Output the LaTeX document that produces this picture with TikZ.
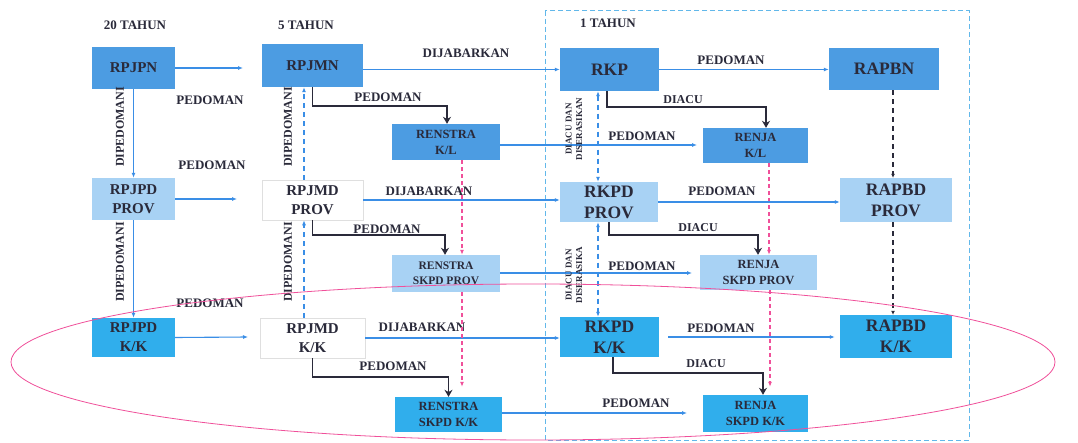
\documentclass[tikz,border=0pt]{standalone}
\usepackage{fontspec}
\setmainfont{Liberation Serif}
\usetikzlibrary{arrows.meta,calc}
\definecolor{dkb}{HTML}{4C9CE2}
\definecolor{ltb}{HTML}{A8D2F4}
\definecolor{brb}{HTML}{30AEEC}
\definecolor{txt}{HTML}{2A2A3A}
\definecolor{lnb}{HTML}{3A8EE6}
\definecolor{pnk}{HTML}{F0509A}
\definecolor{frm}{HTML}{62B8EA}
\begin{document}
\begin{tikzpicture}[x=1pt,y=-1pt,
  box/.style={rectangle, inner sep=0pt, align=center, text=txt},
  dk/.style={box, fill=dkb},
  lt/.style={box, fill=ltb},
  br/.style={box, fill=brb},
  wh/.style={box, fill=white, draw=gray!25, line width=0.6pt},
  fA/.style={font=\bfseries\fontsize{15}{19}\selectfont},
  fB/.style={font=\bfseries\fontsize{17.5}{21}\selectfont},
  fC/.style={font=\bfseries\fontsize{12.5}{16}\selectfont},
  fD/.style={font=\bfseries\fontsize{11.5}{15}\selectfont},
  lab/.style={text=txt, inner sep=0pt, font=\bfseries\fontsize{13}{13}\selectfont},
  labs/.style={text=txt, inner sep=0pt, font=\bfseries\fontsize{12}{12}\selectfont},
  rot/.style={text=txt, inner sep=0pt, rotate=90, align=center, font=\bfseries\fontsize{9}{10.5}\selectfont},
  bl/.style={draw=lnb, line width=1.1pt, -{Latex[length=5pt,width=4pt]}},
  bld/.style={draw=lnb, line width=1.1pt, dash pattern=on 5pt off 4pt},
  blk/.style={draw=txt, line width=1.7pt, -{Stealth[length=7pt,width=8pt]}},
  pk/.style={draw=pnk, line width=1.2pt, dash pattern=on 4pt off 3pt, -{Latex[length=5pt,width=4pt]}},
  bkd/.style={draw=txt, line width=1.4pt, dash pattern=on 5pt off 4pt, -{Latex[length=4pt,width=4pt]}}
]
\useasboundingbox (0,0) rectangle (1078,443);
\fill[white] (0,0) rectangle (1078,443);

% frame of 1 TAHUN
\draw[frm, line width=1pt, dash pattern=on 5pt off 3pt] (545,11) rectangle (969,440);

% column titles
\node[lab] (t20) at (135,25) {20 TAHUN};
\node[lab] (t5) at (306,25) {5 TAHUN};
\node[lab] (t1) at (608,23) {1 TAHUN};

% boxes
\node[dk, fA, minimum width=83pt, minimum height=42pt] (rpjpn) at (133.5,68) {RPJPN};
\node[dk, fA, minimum width=101pt, minimum height=43pt] (rpjmn) at (312.5,65.5) {RPJMN};
\node[dk, fC, minimum width=108pt, minimum height=36pt] (renkl) at (446,142) {RENSTRA\\K/L};
\node[dk, fB, minimum width=99pt, minimum height=43pt] (rkp) at (609.5,69.5) {RKP};
\node[dk, fB, minimum width=110pt, minimum height=42pt] (rapbn) at (884,69) {RAPBN};
\node[dk, fC, minimum width=105pt, minimum height=35pt] (renjakl) at (755.5,145.5) {RENJA\\K/L};

\node[lt, fA, minimum width=83pt, minimum height=42pt] (rpjpdp) at (133.5,199) {RPJPD\\PROV};
\node[wh, fA, minimum width=101pt, minimum height=40pt] (rpjmdp) at (312.5,200) {RPJMD\\PROV};
\node[lt, fB, minimum width=98pt, minimum height=40pt] (rkpdp) at (609,202) {RKPD\\PROV};
\node[lt, fB, minimum width=112pt, minimum height=44pt] (rapbdp) at (896,200) {RAPBD\\PROV};
\node[lt, fD, minimum width=108pt, minimum height=37pt] (rensp) at (446,273.5) {RENSTRA\\SKPD PROV};
\node[lt, fC, minimum width=117pt, minimum height=35pt] (renjap) at (758.5,272.5) {RENJA\\SKPD PROV};

\node[br, fA, minimum width=83pt, minimum height=39pt] (rpjpdk) at (133.5,337.5) {RPJPD\\K/K};
\node[wh, fA, minimum width=105pt, minimum height=40pt] (rpjmdk) at (312.5,338) {RPJMD\\K/K};
\node[br, fB, minimum width=99pt, minimum height=40pt] (rkpdk) at (609.5,337) {RKPD\\K/K};
\node[br, fB, minimum width=112pt, minimum height=43pt] (rapbdk) at (896,336.5) {RAPBD\\K/K};
\node[br, fC, minimum width=107pt, minimum height=35pt] (rensk) at (448.5,414.5) {RENSTRA\\SKPD K/K};
\node[br, fC, minimum width=105pt, minimum height=37pt] (renjak) at (755.5,413.5) {RENJA\\SKPD K/K};

% free ends
\coordinate (e1) at (243,68);
\coordinate (e2) at (237,199);
\coordinate (e3) at (248,337);

% left column arrows
\draw[bl] (rpjpn.east) -- (e1);
\draw[bl] (rpjpdp.east) -- (e2);
\draw[bl] (rpjpdk.east) -- (e3);
\draw[bl] (rpjpn.south) -- (rpjpdp.north);
\draw[bl] (rpjpdp.south) -- (rpjpdk.north);
\node[lab] (lp1) at (210,100) {PEDOMAN};
\node[lab] (lp2) at (212,165) {PEDOMAN};
\node[lab] (lp3) at (210,303) {PEDOMAN};
\node[rot, font=\bfseries\fontsize{12}{12}\selectfont] (ld1) at (120,127) {DIPEDOMANI};
\node[rot, font=\bfseries\fontsize{12}{12}\selectfont] (ld2) at (120,262) {DIPEDOMANI};

% middle column
\draw[bl, bld] ([xshift=-8.5pt]rpjmdp.north) -- ([xshift=-8.5pt]rpjmn.south);
\draw[bl, bld] ([xshift=-8.5pt]rpjmdk.north) -- ([xshift=-8.5pt]rpjmdp.south);
\node[rot, font=\bfseries\fontsize{12}{12}\selectfont] (md1) at (288,127) {DIPEDOMANI};
\node[rot, font=\bfseries\fontsize{12}{12}\selectfont] (md2) at (288,262) {DIPEDOMANI};

\draw[bl] (rpjmn.east |- rkp.west) -- (rkp.west);
\draw[bl] (rpjmdp.east) -- (rpjmdp.east -| rkpdp.west);
\draw[bl] (rpjmdk.east) -- (rpjmdk.east -| rkpdk.west);
\node[lab] (dj1) at (466,53) {DIJABARKAN};
\node[lab] (dj2) at (429,191) {DIJABARKAN};
\node[lab] (dj3) at (422,327) {DIJABARKAN};

\draw[blk] (rpjmn.south) -- ++(0,19) -| ([xshift=1pt]renkl.north);
\draw[blk] (rpjmdp.south) -- ++(0,15) -| ([xshift=-1pt]rensp.north);
\draw[blk] (rpjmdk.south) -- ++(0,19) -| (rensk.north);
\node[lab] (bp1) at (388,97) {PEDOMAN};
\node[lab] (bp2) at (387,229) {PEDOMAN};
\node[lab] (bp3) at (393,366) {PEDOMAN};

% renstra -> renja
\draw[bl] (renkl.east |- 0,145) -- (697,145);
\draw[bl] (rensp.east |- 0,273) -- (692,273);
\draw[bl] (rensk.east |- 0,413) -- (687,413);
\node[lab] (rp1) at (642,136) {PEDOMAN};
\node[lab] (rp2) at (642,266) {PEDOMAN};
\node[lab] (rp3) at (636,403) {PEDOMAN};

% pink dashed
\draw[pk] ([xshift=16pt]renkl.south) -- ([xshift=16pt]rensp.north);
\draw[pk] ([xshift=16pt]rensp.south) -- ([xshift=13.5pt,yshift=10pt]rensk.north);
\draw[pk] ([xshift=13.5pt]renjakl.south) -- ([xshift=10.5pt]renjap.north);
\draw[pk] ([xshift=11.5pt]renjap.south) -- ([xshift=14.5pt,yshift=8pt]renjak.north);

% 1 tahun column
\draw[bl, {Latex[length=5pt,width=4pt]}-{Latex[length=5pt,width=4pt]}, bld] ([xshift=-11.5pt]rkp.south) -- ([xshift=-11pt]rkpdp.north);
\draw[bl, {Latex[length=5pt,width=4pt]}-{Latex[length=5pt,width=4pt]}, bld] ([xshift=-11pt]rkpdp.south) -- ([xshift=-11.5pt]rkpdk.north);
\node[rot] (dd1) at (574,129) {DIACU DAN\\DISERASIKAN};
\node[rot] (dd2) at (574,275) {DIACU DAN\\DISERASIKA};

\draw[bl] (rkp.east) -- (rkp.east -| rapbn.west);
\draw[bl] (rkpdp.east) -- (rkpdp.east -| rapbdp.west);
\draw[bl] ([xshift=9pt]rkpdk.east) -- ([xshift=-5pt]rkpdk.east -| rapbdk.west);
\node[lab] (kp1) at (731,60) {PEDOMAN};
\node[lab] (kp2) at (722,191) {PEDOMAN};
\node[lab] (kp3) at (721,328) {PEDOMAN};

\draw[blk] ([xshift=-2.5pt]rkp.south) -- ++(0,16) -| ([xshift=10.5pt]renjakl.north);
\draw[blk] (rkpdp.south) -- ++(0,13) -| ([xshift=-0.5pt]renjap.north);
\draw[blk] ([xshift=3.5pt]rkpdk.south) -- ++(0,16) -| ([xshift=7.5pt]renjak.north);
\node[labs] (dc1) at (683,100) {DIACU};
\node[labs] (dc2) at (698,228) {DIACU};
\node[labs] (dc3) at (706,364) {DIACU};

\draw[bkd] ([xshift=9pt]rapbn.south) -- ([xshift=-3pt]rapbdp.north);
\draw[bkd] ([xshift=-3pt]rapbdp.south) -- ([xshift=-3pt]rapbdk.north);

% ellipse
\draw[pnk, line width=0.8pt] (533,362) ellipse [x radius=522pt, y radius=78pt];
\end{tikzpicture}
\end{document}
